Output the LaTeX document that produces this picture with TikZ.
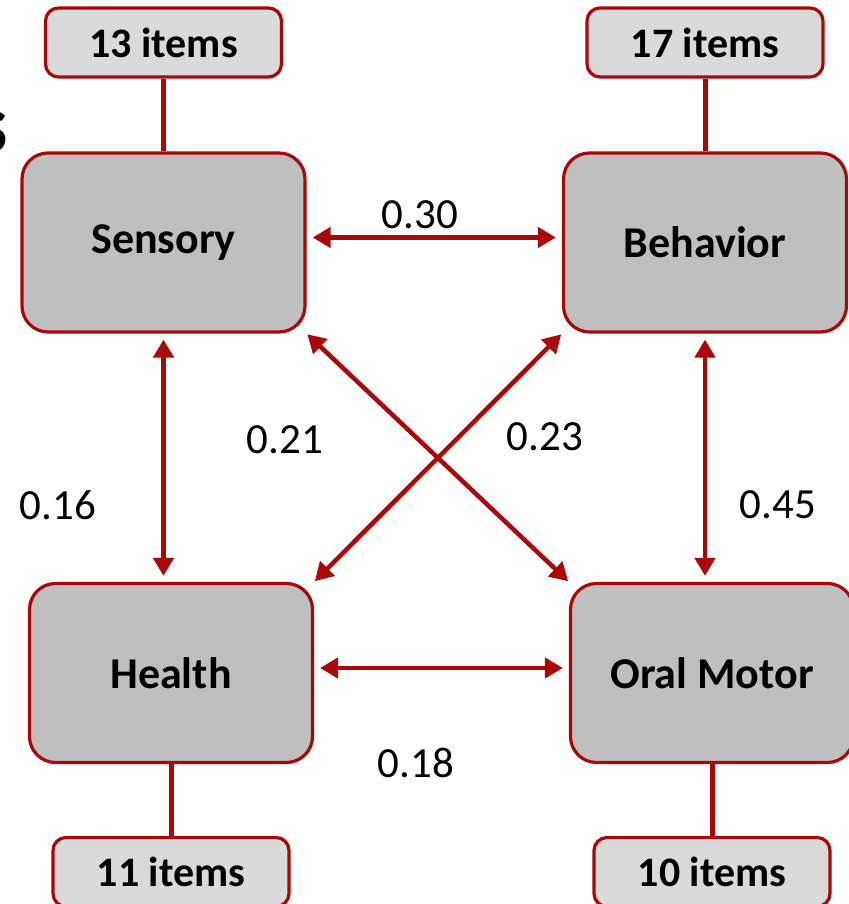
\documentclass[tikz,border=0pt]{standalone}
\usepackage{fontspec}
\setmainfont{Carlito}
\usetikzlibrary{arrows.meta}
\definecolor{dred}{RGB}{170,8,8}
\definecolor{boxgray}{RGB}{191,191,191}
\definecolor{itemgray}{RGB}{218,218,218}
\begin{document}
\begin{tikzpicture}[x=1pt,y=-1pt,>={Triangle[length=18pt,width=20pt]}]
    \useasboundingbox (0,0) rectangle (848,904);
    \node (t) [anchor=base east,inner sep=0pt] at (8,153) {\fontsize{84}{90}\selectfont\bfseries s};
    \begin{scope}[every node/.style={draw=dred,line width=3.2pt,fill=boxgray,rounded corners=26pt,
        minimum width=283pt,minimum height=179pt,font=\fontsize{44}{50}\selectfont\bfseries}]
      \node (s) at (163.5,242.5) {Sensory};
      \node (b) at (705,242.5) {Behavior};
      \node (h) at (171,673) {Health};
      \node (o) at (712,673) {Oral Motor};
    \end{scope}
    \begin{scope}[every node/.style={draw=dred,line width=3.2pt,fill=itemgray,rounded corners=13pt,
        minimum width=236pt,minimum height=69pt,font=\fontsize{42}{48}\selectfont\bfseries}]
      \node (si) at (163.5,42.5) {13 items};
      \node (bi) at (705,42.5) {17 items};
      \node (hi) at (171,872) {11 items};
      \node (oi) at (712,872) {10 items};
    \end{scope}
    \begin{scope}[every node/.style={font=\fontsize{43}{50}\selectfont}]
      \node (l1) at (420,215) {0.30};
      \node (l2) at (58,505) {0.16};
      \node (l3) at (285,440) {0.21};
      \node (l4) at (545,437) {0.23};
      \node (l5) at (778,505) {0.45};
      \node (l6) at (416,763) {0.18};
    \end{scope}
    \begin{scope}[every edge/.style={draw=dred,line width=5pt}]
      \path (si) edge (s)
            (bi) edge (b)
            (h) edge (hi)
            (o) edge (oi);
    \end{scope}
    \begin{scope}[every edge/.style={draw=dred,line width=4.5pt,<->,shorten <=6pt,shorten >=6pt}]
      \path ([yshift=5pt]s.east) edge ([yshift=5pt]b.west)
            (s.south) edge (s.south |- h.north)
            (b.south) edge (b.south |- o.north)
            ([yshift=5pt]h.east) edge ([yshift=5pt]o.west)
            (s.south east) edge[shorten <=1pt,shorten >=1pt] (o.north west)
            (b.south west) edge[shorten <=1pt,shorten >=1pt] (h.north east);
    \end{scope}
\end{tikzpicture}
\end{document}
